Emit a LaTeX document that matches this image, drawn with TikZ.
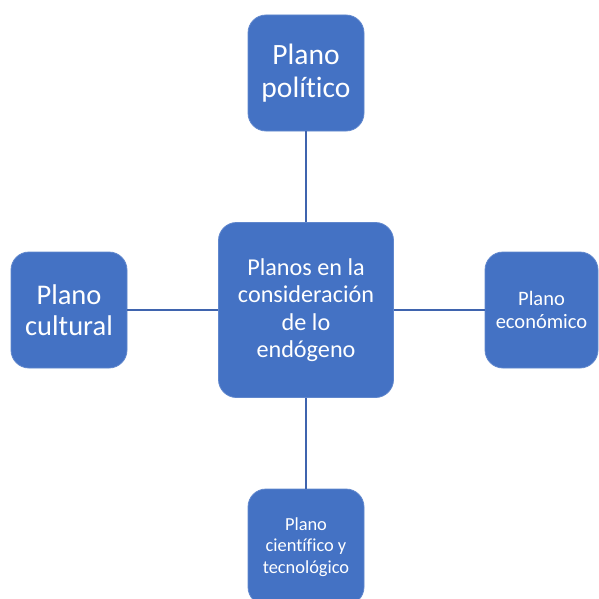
\documentclass[tikz,border=0pt]{standalone}
\usepackage{fontspec}
\setmainfont{Carlito}[Ligatures=NoCommon]
\usetikzlibrary{positioning}
\definecolor{boxblue}{HTML}{4472C4}
\definecolor{lineblue}{HTML}{3F64AE}

\begin{document}
\begin{tikzpicture}[x=1pt,y=-1pt,
    plano/.style={draw=boxblue!85!white,line width=0.8pt,fill=boxblue,
      rounded corners=18pt,text=white,align=center,inner sep=0pt},
    enlace/.style={draw=lineblue,line width=2.4pt}]
  % Configurable parameters
  \def\small{116pt}
  \def\big{175pt}
  %
  % Bounding box
  \useasboundingbox (0,0) rectangle (599,599);
  %
  % Central box
  \node[plano,minimum width=\big,minimum height=\big,
    font=\fontsize{24.2}{27.5}\selectfont] (centro) at (306,310)
    {Planos en la\\consideración\\de lo\\endógeno};
  %
  % Outer boxes
  \node[plano,minimum width=\small,minimum height=\small,
    font=\fontsize{29.5}{33}\selectfont] (politico) at (306,73)
    {Plano\\político};
  \node[plano,minimum width=\small,minimum height=\small,
    font=\fontsize{28.5}{31}\selectfont] (cultural) at (69,310)
    {Plano\\cultural};
  \node[plano,minimum width=113pt,minimum height=\small,
    font=\fontsize{20.5}{23}\selectfont] (economico) at (541.5,310)
    {Plano\\económico};
  \node[plano,minimum width=\small,minimum height=\small,
    font=\fontsize{18.4}{21.5}\selectfont] (cientifico) at (306,547)
    {Plano\\científico y\\tecnológico};
  %
  % Connecting lines
  \draw[enlace] (politico) -- (centro);
  \draw[enlace] (cultural) -- (centro);
  \draw[enlace] (centro) -- (economico);
  \draw[enlace] (centro) -- (cientifico);
  %
\end{tikzpicture}
\end{document}
